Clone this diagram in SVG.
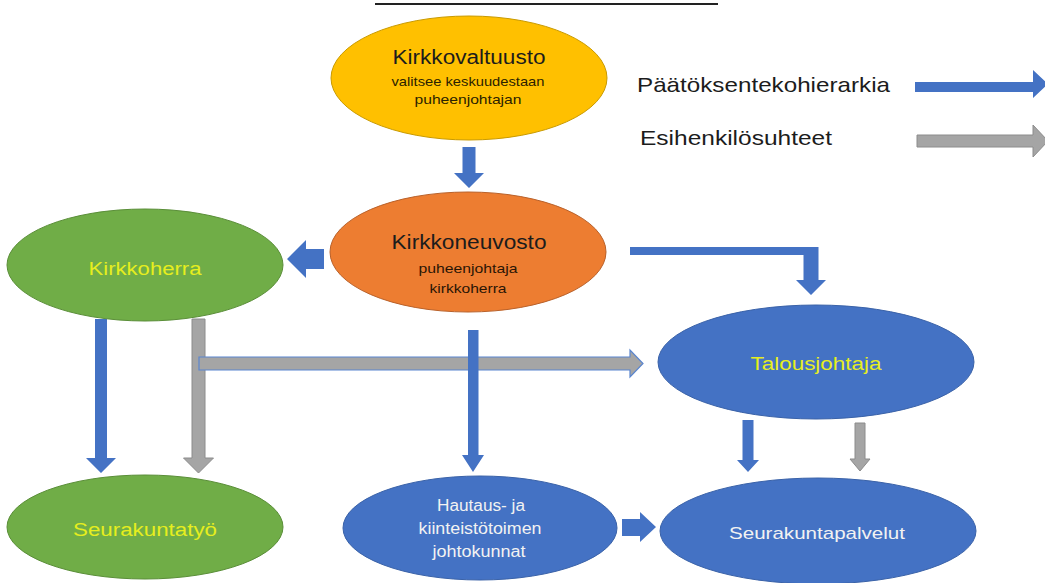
<svg xmlns="http://www.w3.org/2000/svg" width="1045" height="583" viewBox="0 0 1045 583">
<style>
.t{font-family:"Liberation Sans",Arial,sans-serif;text-anchor:middle}
.dark{fill:#1c1c1c}
.yel{fill:#E6EE1E}
.wht{fill:#F2F2F2}
.blue{fill:#4472C4}
.gray{fill:#A5A5A5}
.grayo{fill:#A5A5A5;stroke:#8C8C8C;stroke-width:1}
.grayb{fill:#A5A5A5;stroke:#5B86CF;stroke-width:1.2}
.leg{font-family:"Liberation Sans",Arial,sans-serif;fill:#1c1c1c;font-size:21px}
</style>
<rect width="1045" height="583" fill="#ffffff"/>
<line x1="375" y1="4" x2="718" y2="4" stroke="#222" stroke-width="2"/>

<g id="legend">
<text class="leg" x="637" y="92" textLength="253" lengthAdjust="spacingAndGlyphs">Päätöksentekohierarkia</text>
<polygon class="blue" points="915,82 1033,82 1033,70 1048,84 1033,98 1033,92 915,92"/>
<text class="leg" x="640" y="145" textLength="192" lengthAdjust="spacingAndGlyphs">Esihenkilösuhteet</text>
<polygon class="grayo" points="917,135 1033,135 1033,125 1048,141 1033,157 1033,147 917,147"/>
</g>

<g id="connectors">
<polygon class="blue" points="462.5,147 475.5,147 475.5,173 484,173 469,188 454,173 462.5,173"/>
<polygon class="blue" points="324,249 306,249 306,240 287,259 306,278 306,269 324,269"/>
<polygon class="blue" points="95,319 107,319 107,458 116,458 101,473 86,458 95,458"/>
<polygon class="grayo" points="192,319 205,319 205,458 213.5,458 198.5,473 183.5,458 192,458"/>
<polygon class="grayb" points="199,357 630,357 630,350 643,363.5 630,377 630,370 199,370"/>
<polygon class="blue" points="468,330 478.5,330 478.5,455 484,455 473,472 462,455 468,455"/>
<polygon class="blue" points="630,247 818.5,247 818.5,280 826,280 811,295 796,280 803.5,280 803.5,255 630,255"/>
<polygon class="blue" points="742.5,420 753.5,420 753.5,460 759,460 748,472 737,460 742.5,460"/>
<polygon class="grayo" points="855,423 865,423 865,459 870,459 860,471 850,459 855,459"/>
<polygon class="blue" points="622,519 640,519 640,512 656,527 640,542 640,536 622,536"/>
</g>

<g id="kirkkovaltuusto">
<ellipse cx="469" cy="78" rx="138" ry="62" fill="#FFC000" stroke="#C99A00" stroke-width="1"/>
<text class="t dark" x="469" y="64" font-size="20" textLength="153" lengthAdjust="spacingAndGlyphs">Kirkkovaltuusto</text>
<text class="t" x="468" y="86" font-size="13.5" fill="#2b2200" textLength="153" lengthAdjust="spacingAndGlyphs">valitsee keskuudestaan</text>
<text class="t" x="468" y="104" font-size="13.5" fill="#2b2200" textLength="107" lengthAdjust="spacingAndGlyphs">puheenjohtajan</text>
</g>

<g id="kirkkoneuvosto">
<ellipse cx="468" cy="252" rx="138" ry="60" fill="#ED7D31" stroke="#B9612A" stroke-width="1"/>
<text class="t dark" x="469" y="249" font-size="20" textLength="155" lengthAdjust="spacingAndGlyphs">Kirkkoneuvosto</text>
<text class="t" x="468" y="273" font-size="13.5" fill="#2a1505" textLength="99" lengthAdjust="spacingAndGlyphs">puheenjohtaja</text>
<text class="t" x="468" y="293" font-size="13.5" fill="#2a1505" textLength="77" lengthAdjust="spacingAndGlyphs">kirkkoherra</text>
</g>

<g id="kirkkoherra">
<ellipse cx="145" cy="265" rx="138" ry="56" fill="#70AD47" stroke="#5A8E38" stroke-width="1"/>
<text class="t yel" x="145" y="275" font-size="18" textLength="113" lengthAdjust="spacingAndGlyphs">Kirkkoherra</text>
</g>

<g id="talousjohtaja">
<ellipse cx="816" cy="362" rx="158" ry="57" fill="#4472C4" stroke="#3A62A8" stroke-width="1"/>
<text class="t yel" x="816" y="370" font-size="18" textLength="131" lengthAdjust="spacingAndGlyphs">Talousjohtaja</text>
</g>

<g id="seurakuntatyo">
<ellipse cx="145" cy="527" rx="138" ry="52" fill="#70AD47" stroke="#5A8E38" stroke-width="1"/>
<text class="t yel" x="145" y="536" font-size="18" textLength="144" lengthAdjust="spacingAndGlyphs">Seurakuntatyö</text>
</g>

<g id="hautaus">
<ellipse cx="480" cy="528" rx="137" ry="52" fill="#4472C4" stroke="#3A62A8" stroke-width="1"/>
<text class="t wht" x="481" y="511" font-size="16" textLength="88" lengthAdjust="spacingAndGlyphs">Hautaus- ja</text>
<text class="t wht" x="480" y="534" font-size="16" textLength="123" lengthAdjust="spacingAndGlyphs">kiinteistötoimen</text>
<text class="t wht" x="479" y="557" font-size="16" textLength="93" lengthAdjust="spacingAndGlyphs">johtokunnat</text>
</g>

<g id="seurakuntapalvelut">
<ellipse cx="818" cy="531" rx="158" ry="53" fill="#4472C4" stroke="#3A62A8" stroke-width="1"/>
<text class="t wht" x="817" y="539" font-size="17" textLength="176" lengthAdjust="spacingAndGlyphs">Seurakuntapalvelut</text>
</g>
</svg>
